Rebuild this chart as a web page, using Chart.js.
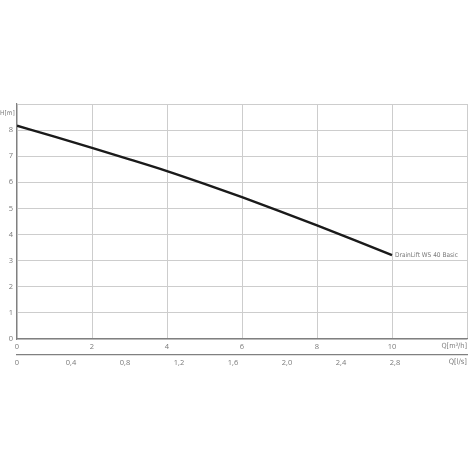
<!DOCTYPE html>
<html>
<head>
<meta charset="utf-8">
<script src="https://cdn.jsdelivr.net/npm/chart.js@4"></script>
<style>
  html, body { margin: 0; padding: 0; background: #fff; }
  #wrap { width: 470px; height: 470px; }
</style>
</head>
<body>
<div id="wrap"><canvas id="pumpCurve" width="470" height="470"></canvas></div>
<script>
// Q in m³/h and head H in m
const flowM3h = [0, 1, 2, 3, 4, 5, 6, 7, 8, 9, 10];
const headM = [8.17, 7.75, 7.32, 6.88, 6.43, 5.94, 5.43, 4.90, 4.35, 3.79, 3.21];
const seriesName = 'DrainLift WS 40 Basic';

const textColor = '#7a7a7a';
const gridColor = '#cdcdcd';
const axisColor = '#808080';
const tickFont = { family: 'Open Sans', size: 7.5 };

const fmtComma = v => (v === 0 ? '0' : v.toFixed(1).replace('.', ','));

// shrink the font until the text fits in maxW
function fitText(ctx, text, x, y, maxW, size) {
    let s = size;
    ctx.font = s + 'px "DejaVu Sans Condensed", "Open Sans"';
    while (ctx.measureText(text).width > maxW && s > 4) {
        s -= 0.25;
        ctx.font = s + 'px "DejaVu Sans Condensed", "Open Sans"';
    }
    ctx.fillText(text, x, y);
}

// unit labels + curve name
const labelsPlugin = {
    id: 'labels',
    afterDraw(chart) {
        const { ctx, chartArea } = chart;
        const xs = chart.scales.x;
        const ys = chart.scales.y;
        ctx.save();
        ctx.fillStyle = textColor;
        ctx.textBaseline = 'middle';
        ctx.textAlign = 'left';
        fitText(ctx, 'H[m]', 0, 113, 15, 7.5);
        ctx.textAlign = 'right';
        fitText(ctx, 'Q[m³/h]', chartArea.right, 346, 26, 7.5);
        fitText(ctx, 'Q[l/s]', chartArea.right, 362, 20, 7.5);
        const last = flowM3h.length - 1;
        ctx.textAlign = 'left';
        fitText(ctx, seriesName, xs.getPixelForValue(flowM3h[last]) + 3, ys.getPixelForValue(headM[last]), 63, 7.5);
        ctx.restore();
    }
};

const ctx = document.getElementById('pumpCurve').getContext('2d');
new Chart(ctx, {
    type: 'line',
    data: {
        datasets: [{
            label: seriesName,
            data: flowM3h.map((q, i) => ({ x: q, y: headM[i] })),
            borderColor: '#1a1a1a',
            borderWidth: 2.4,
            pointRadius: 0,
            cubicInterpolationMode: 'monotone',
            fill: false
        }]
    },
    options: {
        responsive: false,
        animation: false,
        layout: { padding: { top: 104, left: 0, right: 2, bottom: 95 } },
        plugins: { legend: { display: false }, tooltip: { enabled: false } },
        scales: {
            x: {
                type: 'linear',
                position: 'bottom',
                min: 0, max: 12,
                afterFit: s => { s.height = 16; },
                grid: { color: gridColor, drawTicks: false },
                border: { color: axisColor, width: 1.2 },
                ticks: {
                    stepSize: 2, padding: 3, color: textColor, font: tickFont, maxRotation: 0,
                    callback: v => (v >= 12 ? '' : v)
                }
            },
            x2: {
                type: 'linear',
                position: 'bottom',
                min: 0, max: 12 / 3.6,
                afterFit: s => { s.height = 20; },
                grid: { drawOnChartArea: false, drawTicks: false },
                border: { color: axisColor, width: 1.2 },
                ticks: {
                    stepSize: 0.4, padding: 3, color: textColor, font: tickFont, maxRotation: 0,
                    callback: v => (v > 3.0 ? '' : fmtComma(v))
                }
            },
            y: {
                min: 0, max: 9,
                afterFit: s => { s.width = 17; },
                grid: { color: gridColor, drawTicks: false },
                border: { color: axisColor, width: 1.2 },
                ticks: {
                    stepSize: 1, padding: 4, color: textColor, font: tickFont,
                    callback: v => (v >= 9 ? '' : v)
                }
            }
        }
    },
    plugins: [labelsPlugin]
});
</script>
</body>
</html>
